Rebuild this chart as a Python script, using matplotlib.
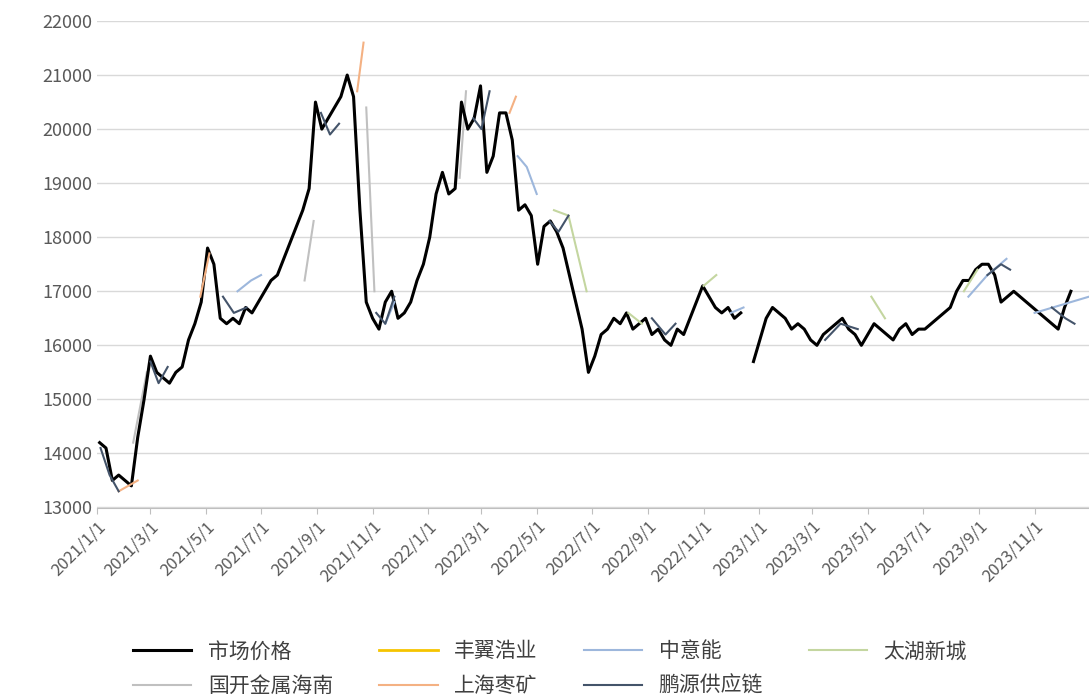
import numpy as np
import pandas as pd
import matplotlib.pyplot as plt

plt.rcParams['font.family'] = ['Noto Sans CJK SC', 'DejaVu Sans']
nan = np.nan

# 市场价格, weekly from 2021-01-04
market = [14200, 14100, 13500, 13600, 13500, 13400, 14300, 15000,
          15800, 15500, 15400, 15300, 15500, 15600, 16100, 16400, 16800,
          17800, 17500, 16500, 16400, 16500, 16400, 16700, 16600,
          16800, 17000, 17200, 17300, 17600, 17900, 18200, 18500, 18900,
          20500, 20000, 20200, 20400, 20600, 21000, 20600, 18500,
          16800, 16500, 16300, 16800, 17000, 16500, 16600, 16800, 17200,
          17500, 18000, 18800, 19200, 18800, 18900, 20500, 20000,
          20200, 20800, 19200, 19500, 20300, 20300, 19800, 18500, 18600,
          18400, 17500, 18200, 18300, 18100, 17800, 17300, 16800,
          16300, 15500, 15800, 16200, 16300, 16500, 16400, 16600, 16300,
          16400, 16500, 16200, 16300, 16100, 16000, 16300, 16200, 16500,
          16800, 17100, 16900, 16700, 16600, 16700, 16500, 16600, nan,
          15700, 16100, 16500, 16700, 16600, 16500, 16300, 16400,
          16300, 16100, 16000, 16200, 16300, 16400, 16500, 16300, 16200,
          16000, 16200, 16400, 16300, 16200, 16100, 16300, 16400,
          16200, 16300, 16300, 16400, 16500, 16600, 16700, 17000, 17200,
          17200, 17400, 17500, 17500, 17300, 16800, 16900, 17000, 16900,
          16800, 16700, 16600, 16500, 16400, 16300, 16700, 17000]
market_dates = pd.date_range("2021-01-04", periods=len(market), freq="7D")

# other quotes, short segments (nan = gap)
pengyuan_dates = pd.to_datetime(["2021-01-05", "2021-01-15", "2021-01-25", "2021-02-01",
                                 "2021-03-01", "2021-03-10", "2021-03-20", "2021-03-30",
                                 "2021-05-20", "2021-06-01", "2021-06-15", "2021-06-25",
                                 "2021-09-05", "2021-09-15", "2021-09-25", "2021-09-30",
                                 "2021-11-05", "2021-11-15", "2021-11-25", "2021-11-30",
                                 "2022-02-20", "2022-03-01", "2022-03-10", "2022-03-12",
                                 "2022-05-15", "2022-05-25", "2022-06-05", "2022-06-10",
                                 "2022-09-05", "2022-09-20", "2022-10-01", "2022-10-10",
                                 "2023-03-15", "2023-04-01", "2023-04-20", "2023-04-25",
                                 "2023-09-10", "2023-09-25", "2023-10-05", "2023-10-12",
                                 "2023-11-20", "2023-12-05", "2023-12-15"])
pengyuan = [14100, 13600, 13300, nan, 15700, 15300, 15600, nan, 16900, 16600, 16700, nan,
            20300, 19900, 20100, nan, 16600, 16400, 16900, nan, 20200, 20000, 20700, nan,
            18300, 18100, 18400, nan, 16500, 16200, 16400, nan, 16100, 16400, 16300, nan,
            17300, 17500, 17400, nan, 16700, 16500, 16400]
zhongyi_dates = pd.to_datetime(["2021-06-05", "2021-06-20", "2021-07-01", "2021-07-05",
                                "2021-11-15", "2021-11-25", "2021-11-28",
                                "2022-04-10", "2022-04-20", "2022-05-01", "2022-05-03",
                                "2022-12-01", "2022-12-15", "2022-12-20",
                                "2023-08-20", "2023-09-10", "2023-10-01", "2023-10-05",
                                "2023-11-01", "2023-12-31"])
zhongyi = [17000, 17200, 17300, nan, 16400, 16800, nan, 19500, 19300, 18800, nan,
           16600, 16700, nan, 16900, 17300, 17600, nan, 16600, 16900]
taihu_dates = pd.to_datetime(["2022-05-20", "2022-06-05", "2022-06-25", "2022-06-28",
                              "2022-08-10", "2022-08-25", "2022-08-28",
                              "2022-11-01", "2022-11-15", "2022-11-18",
                              "2023-05-05", "2023-05-20", "2023-05-22",
                              "2023-08-15", "2023-08-30"])
taihu = [18500, 18400, 17000, nan, 16600, 16400, nan, 17100, 17300, nan,
         16900, 16500, nan, 17000, 17400]
guokai_dates = pd.to_datetime(["2021-02-10", "2021-02-25", "2021-02-28",
                               "2021-08-18", "2021-08-28", "2021-08-30",
                               "2021-10-25", "2021-11-03", "2021-11-05",
                               "2022-02-05", "2022-02-12"])
guokai = [14200, 15500, nan, 17200, 18300, nan, 20400, 17000, nan, 19100, 20700]
shanghai_dates = pd.to_datetime(["2021-01-25", "2021-02-15", "2021-02-18",
                                 "2021-04-25", "2021-05-05", "2021-05-08",
                                 "2021-10-15", "2021-10-22", "2021-10-25",
                                 "2022-04-01", "2022-04-08"])
shanghai = [13300, 13500, nan, 16900, 17700, nan, 20700, 21600, nan, 20300, 20600]

fig = plt.figure(figsize=(10.89, 7.0), dpi=100)
ax = fig.add_axes([0.089, 0.275, 0.911, 0.695])

h_market, = ax.plot(market_dates, market, color="black", linewidth=2.2, label="市场价格", zorder=3)
h_fy, = ax.plot([], [], color="#f5c400", linewidth=2, label="丰翼浩业")
h_zy, = ax.plot(zhongyi_dates, zhongyi, color="#9db7dc", linewidth=1.5, label="中意能", zorder=4)
h_th, = ax.plot(taihu_dates, taihu, color="#c4d6a0", linewidth=1.5, label="太湖新城", zorder=4)
h_gk, = ax.plot(guokai_dates, guokai, color="#c0c0c0", linewidth=1.5, label="国开金属海南", zorder=2)
h_sh, = ax.plot(shanghai_dates, shanghai, color="#f4b183", linewidth=1.5, label="上海枣矿", zorder=4)
h_py, = ax.plot(pengyuan_dates, pengyuan, color="#44546a", linewidth=1.5, label="鹏源供应链", zorder=4)

ax.set_ylim(13000, 22000)
ax.set_yticks(range(13000, 22001, 1000))
ax.set_xlim(pd.Timestamp("2021-01-01"), pd.Timestamp("2023-12-31"))
ticks = pd.date_range("2021-01-01", "2023-11-01", freq="2MS")
ax.set_xticks(ticks)
ax.set_xticklabels([f"{d.year}/{d.month}/1" for d in ticks], rotation=45, ha="right",
                   rotation_mode="anchor", fontsize=12, color="#595959")
ax.tick_params(axis="y", labelsize=13, colors="#595959", length=0)
ax.tick_params(axis="x", length=4, color="#bfbfbf")
ax.grid(axis="y", color="#d9d9d9", linewidth=1)
for s in ["top", "right", "left"]:
    ax.spines[s].set_visible(False)
ax.spines["bottom"].set_color("#bfbfbf")
ax.set_axisbelow(True)

handles = [h_market, h_gk, h_fy, h_sh, h_zy, h_py, h_th]
fig.legend(handles=handles, labels=[h.get_label() for h in handles],
           loc="upper left", bbox_to_anchor=(0.105, 0.112), ncol=4, frameon=False,
           fontsize=15, handlelength=2.8, columnspacing=2.2, labelspacing=0.6,
           labelcolor="#404040")

plt.savefig("out.png")
